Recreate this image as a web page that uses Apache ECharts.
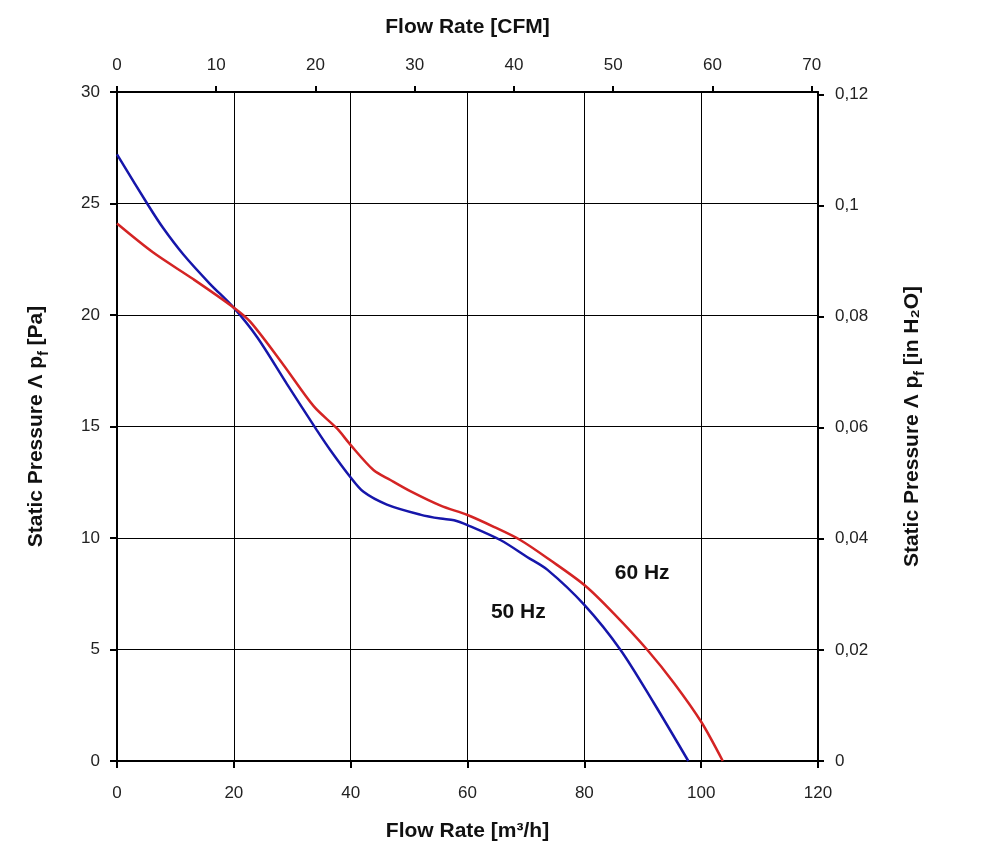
<!DOCTYPE html>
<html>
<head>
<meta charset="utf-8">
<script src="https://cdn.jsdelivr.net/npm/echarts@6/dist/echarts.min.js"></script>
<style>
html, body { margin: 0; padding: 0; background: #fff; }
#main { width: 1000px; height: 866px; }
</style>
</head>
<body>
<div id="main"></div>
<script>
// 50 Hz curve, flow [m3/h] and static pressure [Pa]
var flow50 = [0, 5.4, 7.9, 11.4, 15.9, 19.9, 24, 29.1, 34.2, 36.5, 39.9, 42.2, 46.2, 51.9, 55.4, 57.7, 60, 65.7, 70.2, 73.7, 80, 86.2, 91.9, 97.8]
var press50 = [27.2, 24.9, 23.9, 22.7, 21.4, 20.35, 19.0, 16.9, 14.84, 13.95, 12.75, 12.07, 11.5, 11.05, 10.87, 10.8, 10.58, 9.9, 9.15, 8.57, 7.0, 4.98, 2.6, 0]

// 60 Hz curve
var flow60 = [0, 6.2, 13.1, 19.9, 22.8, 28.5, 33.7, 37.7, 39.9, 43.9, 46.8, 50.2, 55.4, 60, 64.5, 69.1, 74.2, 80.2, 85.1, 90.8, 95.4, 100, 103.7]
var press60 = [24.1, 22.8, 21.6, 20.35, 19.7, 17.76, 15.9, 14.9, 14.2, 13.05, 12.6, 12.1, 11.45, 11.03, 10.5, 9.9, 9.0, 7.85, 6.6, 4.98, 3.48, 1.76, 0]

// where the curve names sit, in data units
var label50 = [68.7, 6.66]
var label60 = [89.9, 8.41]

var M3H_TO_CFM = 0.5886
var PA_TO_INH2O = 1 / 249.09

function pairs(xs, ys) {
    var out = []
    for (var i = 0; i < xs.length; i++) out.push([xs[i], ys[i]])
    return out
}

var font = 'Liberation Sans, Arial, sans-serif'
var black = '#000'
var tickLabel = { fontFamily: font, fontSize: 17, color: '#222' }
var nameStyle = { fontFamily: font, fontSize: 21, fontWeight: 'bold', color: '#111' }
// small "f" dropped below the baseline
var presRich = {
    a: { fontFamily: font, fontSize: 21, fontWeight: 'bold', color: '#111' },
    s: { fontFamily: font, fontSize: 14, fontWeight: 'bold', color: '#111', verticalAlign: 'bottom', padding: [15, 0, 0, 0] }
}
var hzLabel = { show: true, position: 'inside', fontFamily: font, fontSize: 21, fontWeight: 'bold', color: '#111' }

var chart = echarts.init(document.getElementById('main'))

chart.setOption({
    animation: false,
    backgroundColor: '#fff',
    grid: { left: 117, right: 182, top: 92, bottom: 105 },
    xAxis: [{
        type: 'value', position: 'bottom', min: 0, max: 120, interval: 20,
        name: 'Flow Rate [m³/h]', nameLocation: 'middle', nameGap: 60,
        nameTextStyle: nameStyle,
        axisLine: { onZero: false, lineStyle: { color: black, width: 2 } },
        axisTick: { show: true, length: 7, lineStyle: { color: black, width: 2 } },
        axisLabel: Object.assign({ margin: 24 }, tickLabel),
        splitLine: { show: true, lineStyle: { color: black, width: 1 } }
    }, {
        type: 'value', position: 'top', min: 0, max: 120 * M3H_TO_CFM, interval: 10,
        name: 'Flow Rate [CFM]', nameLocation: 'middle', nameGap: 54,
        nameTextStyle: nameStyle,
        axisLine: { onZero: false, lineStyle: { color: black, width: 2 } },
        axisTick: { show: true, length: 6, lineStyle: { color: black, width: 2 } },
        axisLabel: Object.assign({ margin: 18, showMaxLabel: false }, tickLabel),
        splitLine: { show: false }
    }],
    yAxis: [{
        type: 'value', position: 'left', min: 0, max: 30, interval: 5,
        name: '{a|Static Pressure Λ p}{s|f}{a| [Pa]}', nameLocation: 'middle', nameGap: 66, nameRotate: 90,
        nameTextStyle: { rich: presRich },
        axisLine: { onZero: false, lineStyle: { color: black, width: 2 } },
        axisTick: { show: true, length: 7, lineStyle: { color: black, width: 2 } },
        axisLabel: Object.assign({ margin: 17 }, tickLabel),
        splitLine: { show: true, lineStyle: { color: black, width: 1 } }
    }, {
        type: 'value', position: 'right', min: 0, max: 30 * PA_TO_INH2O, interval: 0.02,
        name: '{a|Static Pressure Λ p}{s|f}{a| [in H₂O]}', nameLocation: 'middle', nameGap: 80, nameRotate: 90,
        nameTextStyle: { rich: presRich },
        axisLine: { onZero: false, lineStyle: { color: black, width: 2 } },
        axisTick: { show: true, length: 6, lineStyle: { color: black, width: 2 } },
        axisLabel: Object.assign({
            margin: 17, showMaxLabel: false,
            formatter: function (v) { return String(+v.toFixed(2)).replace('.', ',') }
        }, tickLabel),
        splitLine: { show: false }
    }],
    series: [{
        name: '50 Hz', type: 'line', xAxisIndex: 0, yAxisIndex: 0,
        data: pairs(flow50, press50), showSymbol: false, smooth: 0.3,
        lineStyle: { color: '#1616aa', width: 2.5 },
        markPoint: {
            symbol: 'circle', symbolSize: 0,
            label: Object.assign({ formatter: '50 Hz' }, hzLabel),
            data: [{ coord: label50 }]
        }
    }, {
        name: '60 Hz', type: 'line', xAxisIndex: 0, yAxisIndex: 0,
        data: pairs(flow60, press60), showSymbol: false, smooth: 0.3,
        lineStyle: { color: '#d42424', width: 2.5 },
        markPoint: {
            symbol: 'circle', symbolSize: 0,
            label: Object.assign({ formatter: '60 Hz' }, hzLabel),
            data: [{ coord: label60 }]
        }
    }]
})
</script>
</body>
</html>
